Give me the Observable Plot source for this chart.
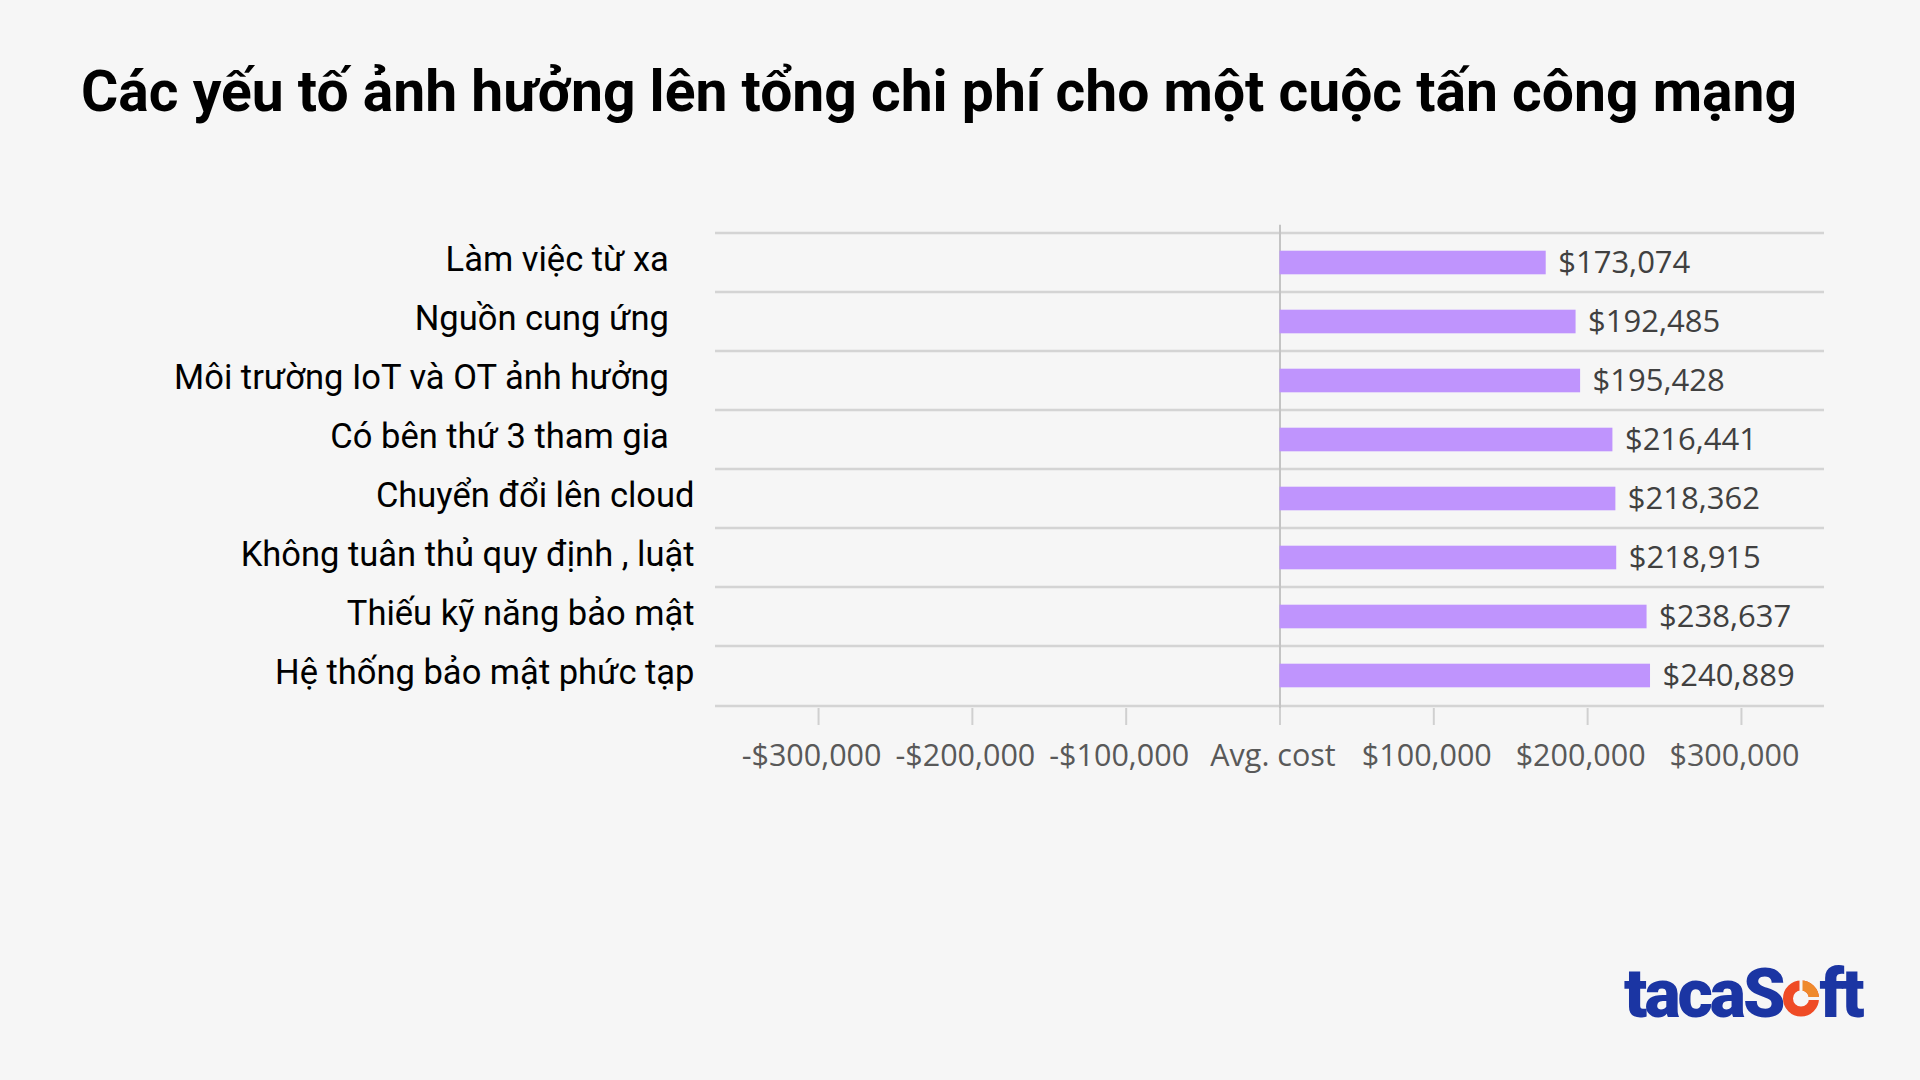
<!DOCTYPE html>
<html>
<head>
<meta charset="utf-8">
<script src="https://cdn.jsdelivr.net/npm/d3@7"></script>
<script src="https://cdn.jsdelivr.net/npm/@observablehq/plot@0.6"></script>
<style>
  html, body { margin: 0; padding: 0; background: #f6f6f6; }
  #page { position: relative; width: 1920px; height: 1080px; background: #f6f6f6; overflow: hidden; }
  #title { position: absolute; left: 81px; top: 63px; font-family: Roboto, sans-serif; font-weight: 700; font-size: 57px; line-height: 57px; color: #000; white-space: nowrap; }
  #chart { position: absolute; left: 0; top: 150px; line-height: 0; }
  #logo { position: absolute; left: 1624px; top: 960px; font-family: Roboto, sans-serif; font-weight: 900; font-size: 68px; line-height: 68px; letter-spacing: -3px; color: #1b35a3; white-space: nowrap; }
  #logo svg { display: inline-block; vertical-align: baseline; margin: 0 1px 0 0; }
</style>
</head>
<body>
<div id="page">
  <div id="title">Các yếu tố ảnh hưởng lên tổng chi phí cho một cuộc tấn công mạng</div>
  <div id="chart"></div>
  <div id="logo">tacaS<svg width="36" height="37" viewBox="0 0 36 37"><circle cx="18" cy="18.5" r="13" fill="none" stroke="#ef4b25" stroke-width="10"/><path d="M18 5.5 A13 13 0 0 1 31 18.5" fill="none" stroke="#ef8a2d" stroke-width="10"/><rect x="16.5" y="0" width="3" height="12" fill="#f6f6f6"/><rect x="24" y="17" width="12" height="3" fill="#f6f6f6"/></svg>ft</div>
</div>
<script>
// Categories (top to bottom) and average cost values
const categories = [
  "Làm việc từ xa\u00a0\u00a0\u00a0",
  "Nguồn cung ứng\u00a0\u00a0\u00a0",
  "Môi trường IoT và OT ảnh hưởng\u00a0\u00a0\u00a0",
  "Có bên thứ 3 tham gia\u00a0\u00a0\u00a0",
  "Chuyển đổi lên cloud",
  "Không tuân thủ quy định , luật",
  "Thiếu kỹ năng bảo mật",
  "Hệ thống bảo mật phức tạp"
];
const values = [173074, 192485, 195428, 216441, 218362, 218915, 238637, 240889];
const xTicks = [-300000, -200000, -100000, 0, 100000, 200000, 300000];
const zeroLabel = "Avg. cost";

const data = categories.map((name, i) => ({name, value: values[i]}));

const W = 1920, H = 669, mTop = 79.7, mBottom = 111, mLeft = 715, mRight = 96;
const step = (H - mTop - mBottom) / categories.length;
const barH = 24.4;
const tickLen = 17;
const money = d3.format(",");
const fmtTick = v => v === 0 ? zeroLabel : (v < 0 ? "-$" : "$") + money(Math.abs(v));

const chart = Plot.plot({
  width: W,
  height: H,
  marginTop: mTop,
  marginBottom: mBottom,
  marginLeft: mLeft,
  marginRight: mRight,
  style: {background: "transparent", fontFamily: "'Open Sans', sans-serif", overflow: "visible"},
  x: {domain: [-367000, 354000]},
  y: {domain: categories, padding: 0},
  marks: [
    Plot.ruleY(categories, {y: d => d, dy: -step / 2, stroke: "#d4d4d4", strokeWidth: 2.5}),
    Plot.ruleY([categories[categories.length - 1]], {y: d => d, dy: step / 2, stroke: "#d4d4d4", strokeWidth: 2.5}),
    Plot.ruleX([0], {stroke: "#c4c4c4", strokeWidth: 2, insetTop: -5, insetBottom: -16}),
    Plot.barX(data, {x: "value", y: "name", fill: "#bf94fd", insetTop: (step - barH) / 2, insetBottom: (step - barH) / 2}),
    Plot.text(data, {x: "value", y: "name", text: d => "$" + money(d.value), textAnchor: "start", dx: 12, dy: 0.5, fontSize: 31, fill: "#404040", fontFamily: "'Open Sans', sans-serif"}),
    Plot.axisX({ticks: xTicks, tickFormat: () => "", tickSize: tickLen, stroke: "#d0d0d0", strokeWidth: 2, label: null}),
    Plot.axisX({ticks: xTicks, tickFormat: fmtTick, tickSize: 0, tickPadding: tickLen + 19, fill: "#595959", fontSize: 30.5, fontFamily: "'Open Sans', sans-serif", dx: -7, label: null}),
    Plot.axisY({tickSize: 0, tickPadding: 21, fontSize: 34.5, fontFamily: "Roboto, sans-serif", fill: "#000", dy: -3, label: null})
  ]
});
document.getElementById("chart").appendChild(chart);
</script>
</body>
</html>
